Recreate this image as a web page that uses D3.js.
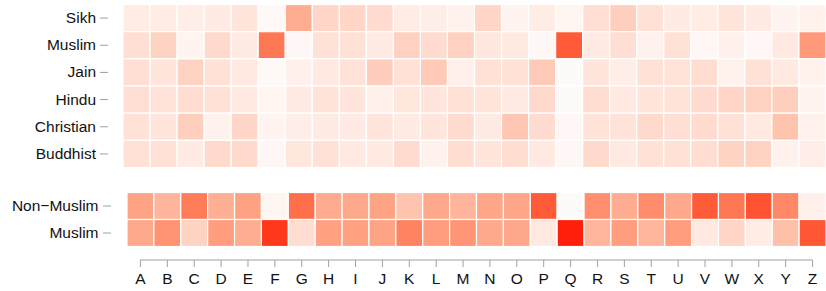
<!DOCTYPE html>
<html>
<head>
<meta charset="utf-8">
<script src="https://cdn.jsdelivr.net/npm/d3@7"></script>
<style>
  body { margin: 0; background: #fff; }
  svg text { font-family: "Liberation Sans", Arial, sans-serif; }
</style>
</head>
<body>
<script>
// columns
const letters = "ABCDEFGHIJKLMNOPQRSTUVWXYZ".split("");

// top panel: religion groups (intensity 0..1)
const topGroups = ["Sikh", "Muslim", "Jain", "Hindu", "Christian", "Buddhist"];
const sikh      = [0.08,0.08,0.07,0.09,0.12,0.01,0.42,0.20,0.20,0.17,0.08,0.07,0.05,0.20,0.04,0.08,0.03,0.15,0.24,0.14,0.09,0.08,0.12,0.09,0.04,0.05];
const muslim    = [0.15,0.22,0.04,0.18,0.09,0.68,0.02,0.14,0.14,0.09,0.23,0.17,0.23,0.11,0.10,0.02,0.80,0.09,0.15,0.05,0.14,0.02,0.06,0.02,0.10,0.52];
const jain      = [0.15,0.12,0.22,0.14,0.10,0.01,0.06,0.10,0.13,0.25,0.14,0.26,0.06,0.14,0.14,0.26,0.00,0.12,0.07,0.14,0.13,0.16,0.05,0.14,0.10,0.05];
const hindu     = [0.15,0.13,0.16,0.14,0.10,0.03,0.09,0.13,0.12,0.06,0.11,0.12,0.14,0.12,0.09,0.18,0.00,0.16,0.10,0.12,0.13,0.17,0.20,0.23,0.24,0.04];
const christian = [0.14,0.12,0.24,0.05,0.20,0.04,0.07,0.09,0.09,0.12,0.09,0.12,0.17,0.09,0.28,0.17,0.02,0.13,0.13,0.18,0.15,0.17,0.14,0.10,0.30,0.05];
const buddhist  = [0.14,0.14,0.09,0.18,0.18,0.02,0.11,0.14,0.10,0.10,0.17,0.05,0.16,0.12,0.16,0.10,0.02,0.18,0.10,0.14,0.14,0.16,0.22,0.22,0.05,0.07];
const topValues = [sikh, muslim, jain, hindu, christian, buddhist];

// bottom panel
const botGroups = ["Non\u2212Muslim", "Muslim"];
const nonMuslimAll = [0.47,0.38,0.66,0.41,0.48,0.03,0.72,0.43,0.44,0.47,0.30,0.44,0.38,0.46,0.46,0.80,0.00,0.57,0.42,0.58,0.44,0.80,0.68,0.83,0.60,0.06];
const muslimAll    = [0.44,0.55,0.22,0.50,0.42,0.92,0.16,0.48,0.48,0.47,0.63,0.50,0.54,0.44,0.45,0.10,0.97,0.37,0.50,0.37,0.50,0.10,0.20,0.08,0.32,0.82];
const botValues = [nonMuslimAll, muslimAll];

const W = 826, H = 291;
const svg = d3.select("body").append("svg").attr("width", W).attr("height", H);

const color = d3.scaleLinear().domain([0, 1])
  .range(["#fdfbfa", "#ff0000"])
  .interpolate(d3.interpolateLab);

function panel(groups, values, x0, y0, y1, axisX, pad) {
  const x = d3.scaleBand().domain(letters).range([x0, W]);
  const y = d3.scaleBand().domain(groups).range([y0, y1]);
  const cells = [];
  groups.forEach((g, i) => letters.forEach((l, j) => cells.push({g: g, l: l, v: values[i][j]})));

  svg.append("g").selectAll("rect")
    .data(cells)
    .enter().append("rect")
    .attr("x", d => x(d.l))
    .attr("y", d => y(d.g))
    .attr("width", x.bandwidth())
    .attr("height", y.bandwidth())
    .attr("fill", d => color(d.v))
    .attr("stroke", "#fff")
    .attr("stroke-width", 1.2);

  const ax = svg.append("g")
    .attr("transform", "translate(" + axisX + ",0)")
    .call(d3.axisLeft(y).tickSize(8).tickPadding(pad));
  ax.select(".domain").remove();
  ax.selectAll("line").attr("stroke", "#a0a0a0");
  ax.selectAll("text").attr("fill", "#111").style("font-size", "15.5px");
  return x;
}

panel(topGroups, topValues, 123, 4.5, 167.5, 108, 4);
const xb = panel(botGroups, botValues, 127, 192.5, 246.5, 111, 4.5);

// bottom axis
const bw = xb.bandwidth();
const xa = svg.append("g")
  .attr("transform", "translate(0,260)")
  .call(d3.axisBottom(xb).tickSize(7).tickPadding(6).tickSizeOuter(0));
xa.select(".domain").remove();
xa.append("line")
  .attr("x1", xb("A") + bw / 2).attr("x2", xb("Z") + bw / 2)
  .attr("stroke", "#a0a0a0");
xa.selectAll("line").attr("stroke", "#a0a0a0");
xa.selectAll("text").attr("fill", "#111").style("font-size", "15.5px");
</script>
</body>
</html>
